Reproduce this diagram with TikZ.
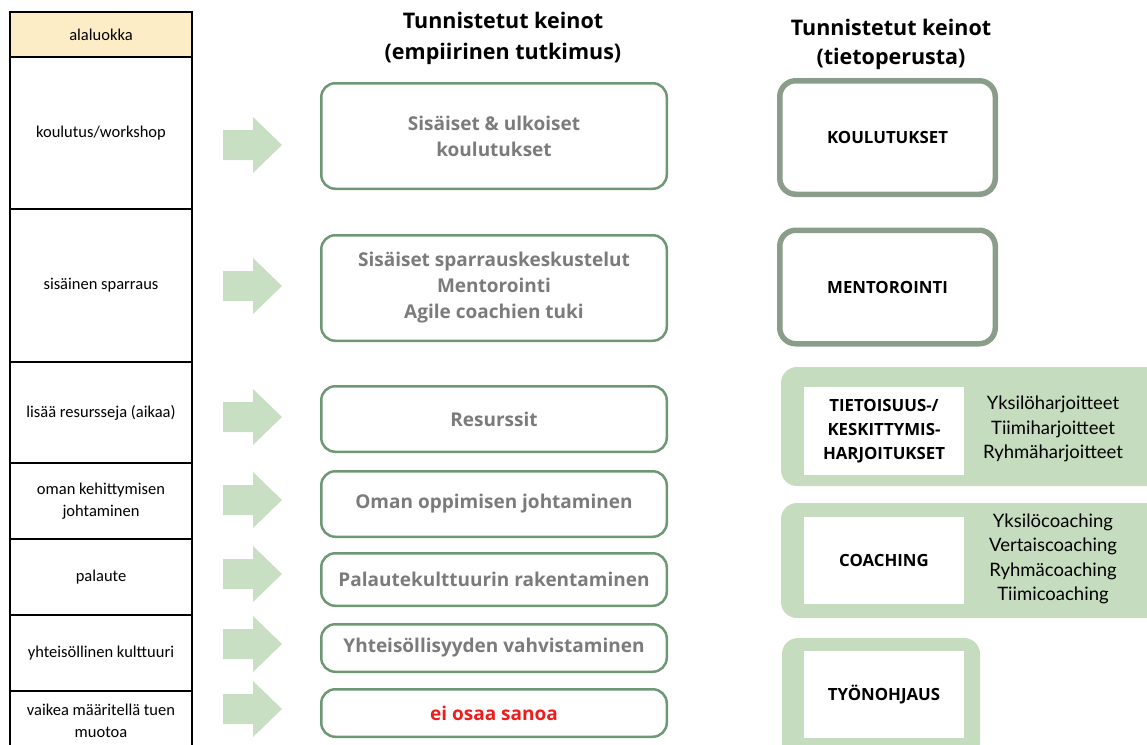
\documentclass[tikz,border=0pt]{standalone}
\usepackage{fontspec}
\setmainfont{Open Sans}
\newfontfamily\tablefont{Carlito}
\newfontfamily\listfont{Lato}
\usetikzlibrary{positioning}
\definecolor{boxgreen}{HTML}{6E9874}
\definecolor{greyframe}{HTML}{8A9D8B}
\definecolor{panelgreen}{HTML}{C6DCBE}
\definecolor{arrowgreen}{HTML}{C9DFC3}
\definecolor{keinotext}{HTML}{7B7B7B}
\definecolor{eired}{HTML}{EE1C1C}
\definecolor{headfill}{HTML}{FCEDC6}

\begin{document}
\begin{tikzpicture}[x=1pt,y=-1pt,
        row/.style={draw,line width=1.2pt,rectangle,minimum width=182pt,outer sep=0pt,node distance=0pt,
          align=center,font=\tablefont\fontsize{16.5}{21.5}\selectfont},
        heading/.style={align=center,font=\bfseries\fontsize{21.5}{31}\selectfont},
        keino/.style={draw=boxgreen,line width=2.5pt,rounded corners=14pt,minimum width=345.5pt,
          align=center,text=keinotext,font=\bfseries\fontsize{19}{26}\selectfont},
        tieto/.style={draw=greyframe,line width=5.5pt,rounded corners=16pt,minimum width=215.5pt,
          minimum height=113.5pt,font=\bfseries\fontsize{16.8}{22}\selectfont},
        panel/.style={fill=panelgreen,rounded corners=16pt},
        inner/.style={fill=white,minimum width=160pt,minimum height=88pt,align=center,
          font=\bfseries\fontsize{16.8}{24}\selectfont},
        lista/.style={align=center,font=\listfont\fontsize{18.5}{24.3}\selectfont}]
   \useasboundingbox (0,0) rectangle (1147,744);
   % alaluokat
   \node (h) at (101,34.5) [row,minimum height=45pt,fill=headfill] {alaluokka};
   \node (r1) [row,below=of h,minimum height=152pt] {koulutus/workshop};
   \node (r2) [row,below=of r1,minimum height=153pt] {sisäinen sparraus};
   \node (r3) [row,below=of r2,minimum height=101pt] {lisää resursseja (aikaa)};
   \node (r4) [row,below=of r3,minimum height=76pt] {oman kehittymisen\\johtaminen};
   \node (r5) [row,below=of r4,minimum height=76pt] {palaute};
   \node (r6) [row,below=of r5,minimum height=76pt] {yhteisöllinen kulttuuri};
   \node (r7) [row,below=of r6,minimum height=60pt] {vaikea määritellä tuen\\muotoa};
   \foreach \y in {145,286,417,500,574,644,709}
      \fill[arrowgreen] (223,\y-15) -- (253,\y-15) -- (253,\y-28) -- (282,\y)
            -- (253,\y+28) -- (253,\y+15) -- (223,\y+15) -- cycle;
   % empiirinen tutkimus
   \node (hd1) at (503,38) [heading] {Tunnistetut keinot\\(empiirinen tutkimus)};
   \node (k1) at (494,136) [keino,minimum height=105.5pt] {Sisäiset \& ulkoiset\\koulutukset};
   \node (k2) at (494,288) [keino,minimum height=105.5pt] {Sisäiset sparrauskeskustelut\\Mentorointi\\Agile coachien tuki};
   \node (k3) at (494,419) [keino,minimum height=65.5pt] {Resurssit};
   \node (k4) at (494,504) [keino,minimum height=65.5pt] {Oman oppimisen johtaminen};
   \node (k5) at (494,579.5) [keino,minimum height=52.5pt] {Palautekulttuurin rakentaminen};
   \node (k6) at (494,648) [keino,minimum height=47.5pt] {Yhteisöllisyyden vahvistaminen};
   \node (k7) at (494,713) [keino,minimum height=47.5pt,text=eired] {ei osaa sanoa};
   % tietoperusta
   \node (hd2) at (891,44.5) [heading,font=\bfseries\fontsize{21.5}{29}\selectfont] {Tunnistetut keinot\\(tietoperusta)};
   \node (t1) at (887.5,137.5) [tieto] {KOULUTUKSET};
   \node (t2) at (887.5,287) [tieto] {MENTOROINTI};
   \node (p1) at (975.5,426.5) [panel,minimum width=389pt,minimum height=119pt] {};
   \node (w1) at (884,431) [inner] {TIETOISUUS-/\\KESKITTYMIS-\\HARJOITUKSET};
   \node (l1) at (1053,429) [lista] {Yksilöharjoitteet\\Tiimiharjoitteet\\Ryhmäharjoitteet};
   \node (p2) at (975.5,560.5) [panel,minimum width=389pt,minimum height=115pt] {};
   \node (w2) at (884,560.5) [inner,minimum height=87pt] {COACHING};
   \node (l2) at (1053,559) [lista] {Yksilöcoaching\\Vertaiscoaching\\Ryhmäcoaching\\Tiimicoaching};
   \node (p3) at (881,699) [panel,minimum width=198pt,minimum height=122pt] {};
   \node (w3) at (884,694.5) [inner,minimum height=87pt] {TYÖNOHJAUS};
\end{tikzpicture}
\end{document}
